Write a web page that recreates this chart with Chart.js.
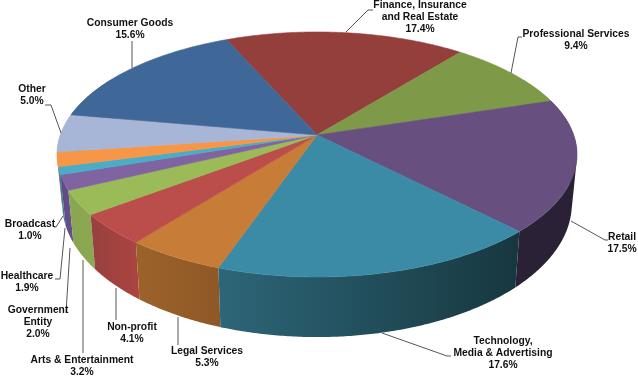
<!DOCTYPE html>
<html>
<head>
<meta charset="utf-8">
<script src="https://cdn.jsdelivr.net/npm/chart.js@4"></script>
<style>html,body{margin:0;padding:0;background:#fff}canvas{display:block}</style>
</head>
<body>
<canvas id="c" width="638" height="377"></canvas>
<script>
const categories = ["Finance, Insurance and Real Estate","Professional Services","Retail","Technology, Media & Advertising","Legal Services","Non-profit","Arts & Entertainment","Government Entity","Broadcast","Healthcare","Other","Consumer Goods"];
const shares = [17.4,9.4,17.5,17.6,5.3,4.1,3.2,2.0,1.0,1.9,5.0,15.6];
const topColors = ["#953f3d","#7e9a48","#67507f","#3c8ba6","#c77c37","#bb4e4b","#9bbb59","#8064a2","#4bacc6","#f79646","#a7b6d6","#3f6797"];
const sideColorsLeft = ["#953f3d","#7e9a48","#2b2136","#2d6678","#9c622a","#97413f","#8aa54f","#5f4a85","#348197","#c9782f","#a7b6d6","#3f6797"];
const sideColorsRight = ["#953f3d","#7e9a48","#2b2136","#17373f","#8e5826","#ab4441","#8ca851","#654f8c","#348197","#c9782f","#a7b6d6","#3f6797"];
const labelLines = [
  ["Finance, Insurance","and Real Estate","17.4%"],["Professional Services","9.4%"],["Retail","17.5%"],
  ["Technology,","Media & Advertising","17.6%"],["Legal Services","5.3%"],["Non-profit","4.1%"],
  ["Arts & Entertainment","3.2%"],["Government","Entity","2.0%"],["Broadcast","1.0%"],["Healthcare","1.9%"],
  ["Other","5.0%"],["Consumer Goods","15.6%"]
];
/* label layout: text centre x, first-line centre y, leader polyline */
const labelLayout = [
  {x:420,y:5.5,l:[[346,32],[368,10],[373,10]]},
  {x:576,y:34.5,l:[[511,73],[518,37],[522,37]]},
  {x:622,y:237.5,l:[[571,221],[605,240],[608,240]]},
  {x:503,y:341.5,l:[[382,333],[447,356],[451,356]]},
  {x:207,y:351.5,l:[[178,317],[178,345]]},
  {x:132,y:327.5,l:[[116,288],[116,320]]},
  {x:82,y:360.5,l:[[83,260],[83,353]]},
  {x:38,y:310.5,l:[[70,248],[66,313]]},
  {x:30,y:224.5,l:[[63,216],[56,227],[54,227]]},
  {x:27,y:276.5,l:[[65,228],[60,279],[55,279]]},
  {x:32,y:89.5,l:[[61,133],[51,105],[45,105]]},
  {x:130,y:23.5,l:[[132,68],[132,41]]}
];
/* perspective projection of the pie's disc */
const P = {cx:317, topY:135, A:256.7, B:119.4, k:0.159, botY:182.5, A2:251.6, B2:130};
function topPt(t){const u=Math.sin(t),v=-Math.cos(t),w=1-P.k*v;return [P.cx+P.A*u/w,P.topY+P.B*v/w];}
function botPt(t){const u=Math.sin(t),v=-Math.cos(t),w=1-P.k*v;return [P.cx+P.A2*u/w,P.botY+P.B2*v/w];}
const pie3d = {
  id:'pie3d',
  beforeDatasetsDraw(chart){
    const ctx=chart.ctx, arcs=chart.getDatasetMeta(0).data;
    const D=Math.PI/180, lo=60*D, hi=300*D;
    const ang=arcs.map(a=>{let s=a.startAngle+Math.PI/2,e=a.endAngle+Math.PI/2;
      if(s<0&&e<=0){s+=2*Math.PI;e+=2*Math.PI;}return [s,e];});
    /* side walls */
    const order=arcs.map((a,i)=>i).sort((p,q)=>Math.abs((ang[q][0]+ang[q][1])/2-Math.PI)-Math.abs((ang[p][0]+ang[p][1])/2-Math.PI));
    order.forEach(i=>{
      const s=Math.max(ang[i][0],lo), e=Math.min(ang[i][1],hi);
      if(e<=s) return;
      const n=Math.max(2,Math.ceil((e-s)/(0.5*D)));
      ctx.beginPath();
      let minX=1e9,maxX=-1e9;
      for(let j=0;j<n;j++){
        const a=s+(e-s)*j/n,b=s+(e-s)*(j+1)/n;
        let q=[topPt(a),topPt(b),botPt(b),botPt(a)];
        let area=0;q.forEach((p,m)=>{const r=q[(m+1)%4];area+=p[0]*r[1]-r[0]*p[1];});
        if(area<0)q.reverse();
        ctx.moveTo(q[0][0],q[0][1]);q.slice(1).forEach(p=>ctx.lineTo(p[0],p[1]));ctx.closePath();
        q.forEach(p=>{minX=Math.min(minX,p[0]);maxX=Math.max(maxX,p[0]);});
      }
      const g=ctx.createLinearGradient(minX,0,maxX,0);
      g.addColorStop(0,sideColorsLeft[i]);g.addColorStop(1,sideColorsRight[i]);
      ctx.fillStyle=g;ctx.fill('nonzero');
    });
    /* top face */
    arcs.forEach((a,i)=>{
      const s=ang[i][0],e=ang[i][1],n=Math.max(2,Math.ceil((e-s)/(0.5*D)));
      ctx.beginPath();ctx.moveTo(P.cx,P.topY);
      for(let j=0;j<=n;j++){const p=topPt(s+(e-s)*j/n);ctx.lineTo(p[0],p[1]);}
      ctx.closePath();
      ctx.fillStyle=topColors[i];ctx.fill();
      ctx.strokeStyle=topColors[i];ctx.lineWidth=0.6;ctx.stroke();
    });
    /* leaders and labels */
    ctx.save();
    ctx.strokeStyle='#555';ctx.lineWidth=1;
    labelLayout.forEach(o=>{ctx.beginPath();o.l.forEach((p,m)=>m?ctx.lineTo(p[0],p[1]):ctx.moveTo(p[0],p[1]));ctx.stroke();});
    ctx.font='bold 10.3px "Liberation Sans", Arial, sans-serif';
    ctx.fillStyle='#111';ctx.textAlign='center';ctx.textBaseline='middle';
    labelLayout.forEach((o,i)=>labelLines[i].forEach((t,m)=>ctx.fillText(t,o.x,o.y+m*12)));
    ctx.restore();
    return false;
  }
};
new Chart(document.getElementById('c'),{
  type:'pie',
  data:{labels:categories,datasets:[{data:shares,backgroundColor:topColors,borderWidth:0}]},
  options:{responsive:false,animation:false,rotation:-23.8,
    plugins:{legend:{display:false},tooltip:{enabled:false}}},
  plugins:[pie3d]
});
</script>
</body>
</html>
